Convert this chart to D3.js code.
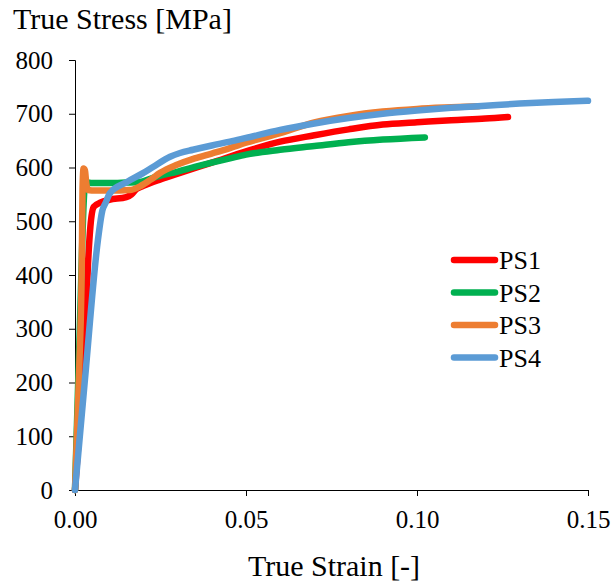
<!DOCTYPE html>
<html>
<head>
<meta charset="utf-8">
<script src="https://cdn.jsdelivr.net/npm/d3@7/dist/d3.min.js"></script>
<style>
  html, body { margin: 0; padding: 0; background: #fff; }
  svg { display: block; }
  text { font-family: "Liberation Serif", "Times New Roman", serif; fill: #000; }
</style>
</head>
<body>
<svg id="chart" width="614" height="583"></svg>
<script>
// True stress–strain curves for four specimens
const seriesNames = ["PS1", "PS2", "PS3", "PS4"];
const seriesColors = ["#FF0000", "#00B050", "#ED7D31", "#5B9BD5"];

const ps1Strain = [0, 0.0032, 0.0038, 0.0045, 0.0055, 0.0075, 0.010, 0.015, 0.0165, 0.018, 0.020, 0.025, 0.0307, 0.04, 0.05, 0.06, 0.07, 0.08, 0.09, 0.10, 0.11, 0.12, 0.1266];
const ps1Stress = [0, 330, 420, 490, 527, 535, 540, 545, 550, 560, 566, 578, 590, 609, 630, 648, 660, 671, 680, 684, 688, 691, 694];

const ps2Strain = [0, 0.0014, 0.0028, 0.0034, 0.005, 0.010, 0.015, 0.019, 0.022, 0.025, 0.0298, 0.035, 0.04, 0.0453, 0.05, 0.06, 0.07, 0.08, 0.09, 0.1023];
const ps2Stress = [0, 300, 560, 572, 571, 571, 572, 573, 579, 585, 592, 601, 609, 617, 624, 633, 640, 647, 652, 656];

const ps3Strain = [0, 0.0012, 0.002, 0.0022, 0.0025, 0.0029, 0.0033, 0.0038, 0.006, 0.010, 0.016, 0.019, 0.022, 0.0249, 0.0298, 0.035, 0.04, 0.0453, 0.05, 0.06, 0.07, 0.08, 0.09, 0.10, 0.11, 0.118];
const ps3Stress = [0, 220, 430, 560, 598, 595, 570, 558, 557, 557, 558, 565, 577, 590, 605, 617, 626, 636, 646, 664, 684, 696, 704, 709, 712, 714];

const ps4Strain = [0, 0.0029, 0.0067, 0.0080, 0.0090, 0.0102, 0.0152, 0.020, 0.0228, 0.0278, 0.0307, 0.0345, 0.04, 0.0453, 0.05, 0.06, 0.07, 0.08, 0.09, 0.10, 0.11, 0.12, 0.13, 0.14, 0.15];
const ps4Stress = [0, 205, 465, 520, 535, 552, 573, 590, 601, 620, 627, 633, 641, 648, 655, 670, 682, 692, 700, 706, 711, 715, 719, 722, 724];

const xTicks = [0, 0.05, 0.10, 0.15];
const yTicks = [0, 100, 200, 300, 400, 500, 600, 700, 800];

const xTitle = "True Strain [-]";
const yTitle = "True Stress [MPa]";

const strains = [ps1Strain, ps2Strain, ps3Strain, ps4Strain];
const stresses = [ps1Stress, ps2Stress, ps3Stress, ps4Stress];

const FONT = "'Liberation Serif', 'Times New Roman', serif";
const svg = d3.select("#chart");

const x = d3.scaleLinear().domain([0, 0.15]).range([75, 588]);
const y = d3.scaleLinear().domain([0, 800]).range([490, 60]);

// axes
const xAxis = d3.axisBottom(x).tickValues(xTicks).tickFormat(d3.format(".2f")).tickSizeOuter(0).tickSize(6).tickPadding(14);
const yAxis = d3.axisLeft(y).tickValues(yTicks).tickFormat(d3.format("d")).tickSizeOuter(0).tickSize(6).tickPadding(16);

const gx = svg.append("g").attr("transform", "translate(0,490)").call(xAxis);
const gy = svg.append("g").attr("transform", "translate(75,0)").call(yAxis);

[gx, gy].forEach(g => {
  g.attr("font-family", FONT).attr("font-size", 25);
  g.select(".domain").attr("stroke", "#000").attr("stroke-width", 1);
  g.selectAll(".tick line").attr("stroke", "#000").attr("stroke-width", 1);
  g.selectAll(".tick text").attr("fill", "#000").attr("font-family", FONT).attr("font-size", 25);
});

// curves
const line = d3.line()
  .x(d => x(d[0]))
  .y(d => y(d[1]))
  .curve(d3.curveMonotoneX);

seriesNames.forEach((name, i) => {
  const pts = strains[i].map((s, k) => [s, stresses[i][k]]);
  svg.append("path")
    .datum(pts)
    .attr("fill", "none")
    .attr("stroke", seriesColors[i])
    .attr("stroke-width", 6.5)
    .attr("stroke-linecap", "round")
    .attr("stroke-linejoin", "round")
    .attr("d", line);
});

// legend
const legend = svg.append("g").attr("font-family", FONT);
seriesNames.forEach((name, i) => {
  const ly = 260 + i * 32.5;
  legend.append("line")
    .attr("x1", 454).attr("x2", 495)
    .attr("y1", ly).attr("y2", ly)
    .attr("stroke", seriesColors[i])
    .attr("stroke-width", 6.5)
    .attr("stroke-linecap", "round");
  legend.append("text")
    .attr("x", 499).attr("y", ly)
    .attr("dy", "0.35em")
    .attr("font-family", FONT)
    .attr("font-size", 26)
    .text(name);
});

// axis titles
svg.append("text")
  .attr("x", 13).attr("y", 29)
  .attr("font-family", FONT)
  .attr("font-size", 30)
  .text(yTitle);

svg.append("text")
  .attr("x", 334).attr("y", 576)
  .attr("text-anchor", "middle")
  .attr("font-family", FONT)
  .attr("font-size", 30)
  .text(xTitle);
</script>
</body>
</html>
